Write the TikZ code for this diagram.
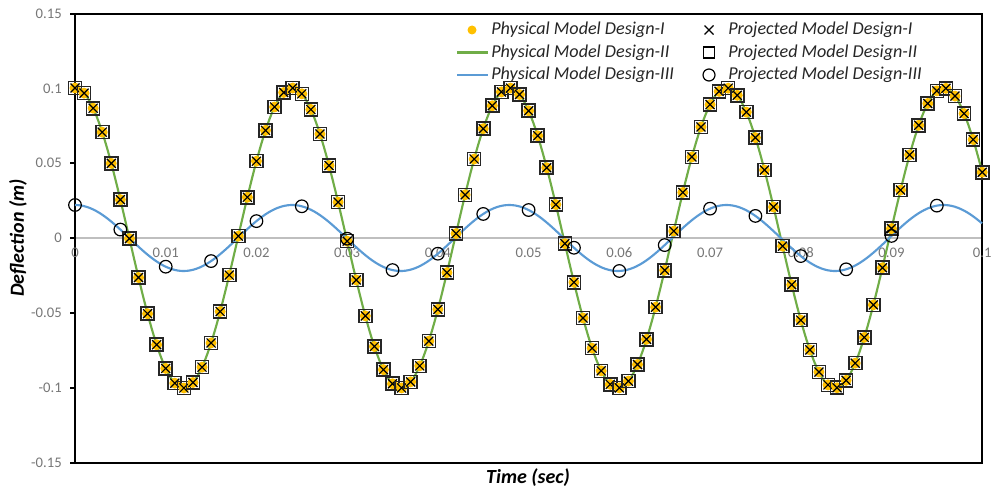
\documentclass[tikz,border=0pt]{standalone}
\usepackage{fontspec}
\setmainfont{Carlito}
\definecolor{ygold}{HTML}{FFC000}
\definecolor{lgreen}{HTML}{70AD47}
\definecolor{lblue}{HTML}{5B9BD5}
\definecolor{ticklab}{HTML}{767676}
\definecolor{zline}{HTML}{BFBFBF}
\definecolor{legtext}{HTML}{262626}
\tikzset{
  ticklabel/.style={text=ticklab, font=\fontsize{11}{13}\selectfont, inner sep=0pt},
  legendlabel/.style={text=legtext, font=\fontsize{13.6}{16}\selectfont\itshape, inner sep=0pt, anchor=west},
  axistitle/.style={text=black, font=\fontsize{15}{18}\selectfont\bfseries\itshape, inner sep=0pt},
  curveII/.style={lgreen, line width=1.6pt},
  curveIII/.style={lblue, line width=1.6pt},
  dotI/.style={fill=ygold, draw=none},
  sqII/.style={draw=black!85, line width=1.2pt},
  xI/.style={draw=black, line width=0.9pt},
  cIII/.style={draw=black, line width=0.9pt},
}
\begin{document}
\begin{tikzpicture}[x=0.75pt,y=-0.75pt]
\useasboundingbox (0,0) rectangle (994,492);
% zero line
\draw[zline, line width=1pt] (75,238) -- (982,238);
% frame
\draw[black, line width=1.1pt] (75,14) -- (982,14) -- (982,463) -- (75,463) -- cycle;
% y ticks and labels
\foreach \v/\lab [count=\k] in {14/0.15,88.5/0.1,163/0.05,238/0,313/-0.05,388/-0.1,463/-0.15}{
  \draw[black, line width=1pt] (70,\v) -- (75,\v);
  \node[ticklabel, anchor=east] (yl\k) at (62,\v) {\lab};
}
% x labels
\foreach \i/\lab in {0/0,1/0.01,2/0.02,3/0.03,4/0.04,5/0.05,6/0.06,7/0.07,8/0.08,9/0.09,10/0.1}{
  \node[ticklabel] (xl\i) at ({75+90.72*\i},253) {\lab};
}
% curves
\draw[curveII] plot[domain=75:982, samples=500] (\x, {238-150*cos((\x-75)*1.65785)});
\draw[curveIII] plot[domain=75:982, samples=300] (\x, {238-33*cos((\x-75)*1.65785)});
% markers Design I/II
\foreach \i in {0,...,100}{
  \pgfmathsetmacro{\px}{75+9.072*\i}
  \pgfmathsetmacro{\py}{238-150*cos(15.04*\i)}
  \fill[dotI] (\px,\py) circle (5.5);
  \draw[sqII] ({\px-6.5},{\py-6.5}) rectangle ({\px+6.5},{\py+6.5});
  \draw[xI] ({\px-4.5},{\py-4.5}) -- ({\px+4.5},{\py+4.5}) ({\px-4.5},{\py+4.5}) -- ({\px+4.5},{\py-4.5});
}
% circles Design III
\foreach \i in {0,...,19}{
  \pgfmathsetmacro{\px}{75+45.36*\i}
  \pgfmathsetmacro{\py}{238-33*cos(75.2*\i)}
  \draw[cIII] (\px,\py) circle (6.3);
}
% legend
\fill[dotI] (472,30) circle (4.5);
\node[legendlabel] (lg1) at (491,30) {Physical Model Design-I};
\draw[curveII] (457,52.5) -- (488,52.5);
\node[legendlabel] (lg2) at (491,52.5) {Physical Model Design-II};
\draw[curveIII] (457,75) -- (488,75);
\node[legendlabel] (lg3) at (491,75) {Physical Model Design-III};
\draw[xI] (704.5,25.5) -- (713.5,34.5) (704.5,34.5) -- (713.5,25.5);
\node[legendlabel] (lg4) at (728,30) {Projected Model Design-I};
\draw[cIII, line width=0.8pt] (703.5,47) rectangle (714.5,58);
\node[legendlabel] (lg5) at (728,52.5) {Projected Model Design-II};
\draw[cIII] (709,75) circle (6);
\node[legendlabel] (lg6) at (728,75) {Projected Model Design-III};
% axis titles
\node[axistitle, rotate=90] (ytitle) at (18,238) {Deflection (m)};
\node[axistitle] (xtitle) at (528,478) {Time (sec)};
\end{tikzpicture}
\end{document}
